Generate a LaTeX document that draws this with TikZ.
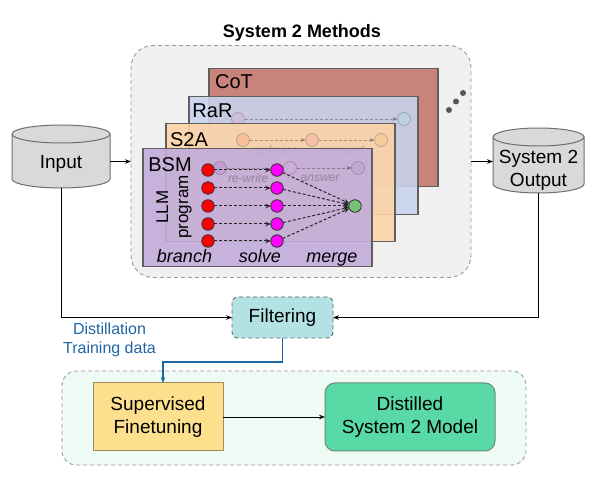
\documentclass[tikz,border=0pt]{standalone}
\usepackage{fontspec}
\setmainfont{Liberation Sans}
\usetikzlibrary{arrows.meta}
\definecolor{methfill}{HTML}{F0F0F0}
\definecolor{methdraw}{HTML}{9A9A9A}
\definecolor{cotfill}{HTML}{C8837A}
\definecolor{rarfill}{HTML}{C8D4EF}
\definecolor{s2afill}{HTML}{FDD3A6}
\definecolor{bsmfill}{HTML}{C2ACDA}
\definecolor{paneldraw}{HTML}{5F5F5F}
\definecolor{cylfill}{HTML}{D9D9D9}
\definecolor{cyldraw}{HTML}{6E6E6E}
\definecolor{filtfill}{HTML}{B3E2E5}
\definecolor{botfill}{HTML}{EEFAF4}
\definecolor{sftfill}{HTML}{FDE08E}
\definecolor{sftdraw}{HTML}{9C8B5E}
\definecolor{distfill}{HTML}{58D9A6}
\definecolor{distdraw}{HTML}{6A8C7C}
\definecolor{bluec}{HTML}{1F66A3}
\definecolor{dotc}{HTML}{555555}
\definecolor{greenc}{HTML}{74C474}
\definecolor{redc}{HTML}{FF0000}
\definecolor{magc}{HTML}{FF00FF}
\definecolor{fpurple}{HTML}{B080C8}
\definecolor{flav}{HTML}{D8A8E8}
\definecolor{fgrey}{HTML}{A8A8CC}
\definecolor{fpink}{HTML}{E0A0D8}
\definecolor{fcyan}{HTML}{A8E0EC}
\definecolor{forange}{HTML}{F49A60}
\definecolor{frose}{HTML}{F89AA0}
\definecolor{fgold}{HTML}{F4C878}
\begin{document}
\begin{tikzpicture}[x=1pt,y=-1pt,
  every node/.style={inner sep=0pt, outer sep=0pt},
  txt/.style={font=\fontsize{19}{23}\selectfont, align=center},
  titlestyle/.style={font=\bfseries\fontsize{18}{21}\selectfont},
  methods/.style={draw=methdraw, fill=methfill, line width=0.9pt, dash pattern=on 4pt off 3pt, rounded corners=22pt},
  panel/.style={draw=paneldraw, line width=1.3pt, minimum width=229pt, minimum height=118pt},
  plabel/.style={font=\fontsize{20}{24}\selectfont},
  cylshape/.style={draw=cyldraw, fill=cylfill, line width=1pt},
  cylline/.style={draw=cyldraw, line width=1pt},
  arr/.style={draw=black, line width=0.9pt, -{Stealth[length=6pt,width=4.5pt]}},
  bluearr/.style={draw=bluec, line width=1.2pt, -{Stealth[length=6pt,width=4.5pt]}},
  dasharr/.style={draw=black!85, line width=1pt, dash pattern=on 3pt off 2pt, -{Stealth[length=5.5pt,width=4.5pt]}},
  dotnode/.style={circle, minimum size=12.5pt, draw=black!80, line width=0.8pt},
  fdot/.style={circle, minimum size=13pt, draw=black!70, line width=0.8pt, opacity=0.3},
  fdash/.style={draw=black, line width=0.9pt, dash pattern=on 3pt off 2pt, opacity=0.3, -{Stealth[length=5pt,width=4pt]}},
  ftext/.style={font=\itshape\fontsize{12}{14}\selectfont, text=black, opacity=0.25},
  itl/.style={font=\itshape\fontsize{18}{21}\selectfont, anchor=base},
  filt/.style={draw=black!60, fill=filtfill, line width=0.9pt, dash pattern=on 4pt off 3pt, rounded corners=6pt, minimum width=101pt, minimum height=41pt},
  botbox/.style={draw=methdraw, fill=botfill, line width=0.9pt, dash pattern=on 4pt off 3pt, rounded corners=14pt},
  sftbox/.style={draw=sftdraw, fill=sftfill, line width=1pt, minimum width=130pt, minimum height=68pt},
  distbox/.style={draw=distdraw, fill=distfill, line width=1pt, rounded corners=10pt, minimum width=170pt, minimum height=68pt}
]
\useasboundingbox (0,0) rectangle (606,481);

% title
\node[titlestyle, anchor=base] (title) at (302,38) {System 2 Methods};

% methods container
\node[methods, minimum width=340pt, minimum height=232pt] (methods) at (301,161.5) {};

% CoT panel
\node[panel, fill=cotfill] (cot) at (323.5,127.5) {};
\node[plabel] (cotlbl) at (234,82) {CoT};

% RaR panel
\node[panel, fill=rarfill, fill opacity=0.88] (rar) at (303.5,155.5) {};
\node[plabel] (rarlbl) at (212.5,111) {RaR};
\node[fdot, fill=fpink] (fa1) at (238,119) {};
\node[fdot, fill=fcyan] (fa2) at (404,119) {};
\draw[fdash] (fa1) -- (fa2);

% S2A panel
\node[panel, fill=s2afill, fill opacity=0.88] (s2a) at (280.5,182.5) {};
\node[plabel] (s2albl) at (189,140) {S2A};
\node[fdot, fill=forange] (fb1) at (243,140) {};
\node[fdot, fill=frose] (fb2) at (312,140) {};
\node[fdot, fill=fgold] (fb3) at (381,140) {};
\draw[fdash] (fb1) -- (fb2);
\draw[fdash] (fb2) -- (fb3);
\node[ftext] (rephr) at (275,151) {rephrase};
\node[ftext] (respd) at (342,151) {respond};

% BSM panel
\node[panel, fill=bsmfill, fill opacity=0.9] (bsm) at (257.5,207.5) {};
\node[plabel] (bsmlbl) at (170,165) {BSM};
\node[fdot, fill=fpurple] (fc1) at (220,168) {};
\node[fdot, fill=flav] (fc2) at (290,168) {};
\node[fdot, fill=fgrey] (fc3) at (358,168) {};
\draw[fdash] (fc1) -- (fc2);
\draw[fdash] (fc2) -- (fc3);
\node[ftext] (rewr) at (248,178) {re-write};
\node[ftext] (answ) at (320,178) {answer};

% BSM program
\foreach \i/\yy in {1/170,2/188,3/206,4/224,5/241} {
  \node[dotnode, fill=redc] (r\i) at (208,\yy) {};
  \node[dotnode, fill=magc] (m\i) at (277,\yy) {};
  \draw[dasharr] (r\i) -- (m\i);
}
\node[dotnode, fill=greenc] (g) at (355,206) {};
\foreach \i in {1,...,5} { \draw[dasharr] (m\i) -- (g); }
\node[rotate=90, align=center, font=\fontsize{17}{20}\selectfont] (llm) at (174,207) {LLM\\program};
\node[itl] (branch) at (184.5,263) {branch};
\node[itl] (solve) at (260,263) {solve};
\node[itl] (merge) at (332,263) {merge};

% more dots
\fill[dotc] (449,110) circle[radius=3pt];
\fill[dotc] (456,101.5) circle[radius=3pt];
\fill[dotc] (463,93) circle[radius=3pt];

% Input cylinder
\path[cylshape] (12,134) -- (12,179) .. controls (12,183.97) and (33.94,188) .. (61,188)
  .. controls (88.06,188) and (110,183.97) .. (110,179) -- (110,134)
  .. controls (110,129.03) and (88.06,125) .. (61,125)
  .. controls (33.94,125) and (12,129.03) .. (12,134) -- cycle;
\path[cylline] (12,134) .. controls (12,138.97) and (33.94,143) .. (61,143)
  .. controls (88.06,143) and (110,138.97) .. (110,134);
\node[txt, minimum width=98pt, minimum height=48pt] (input) at (61,164) {Input};

% Output cylinder
\path[cylshape] (493,137) -- (493,184) .. controls (493,188.97) and (513.37,193) .. (538.5,193)
  .. controls (563.63,193) and (584,188.97) .. (584,184) -- (584,137)
  .. controls (584,132.03) and (563.63,128) .. (538.5,128)
  .. controls (513.37,128) and (493,132.03) .. (493,137) -- cycle;
\path[cylline] (493,137) .. controls (493,141.97) and (513.37,146) .. (538.5,146)
  .. controls (563.63,146) and (584,141.97) .. (584,137);
\node[txt, minimum width=91pt, minimum height=46pt] (output) at (538.5,170) {System 2\\Output};

% arrows to/from methods
\draw[arr] (methods.west -| input.east) -- (methods.west);
\draw[arr] (methods.east) -- (methods.east -| output.west);

% Filtering
\node[filt, txt] (filter) at (282.5,317.5) {Filtering};
\draw[arr] (input.south) |- (filter.west);
\draw[arr] (output.south) |- (filter.east);

% Distillation label
\node[align=center, text=bluec, font=\fontsize{16}{19}\selectfont] (distlbl) at (109.5,339.5) {Distillation\\Training data};

% bottom container
\node[botbox, minimum width=464pt, minimum height=94pt] (bottom) at (294,418) {};
\node[sftbox, txt] (sft) at (158,417) {Supervised\\Finetuning};
\node[distbox, txt] (dist) at (410,417) {Distilled\\System 2 Model};
\draw[arr] (sft) -- (dist);

% blue connector
\coordinate (bend) at (163,362);
\draw[bluearr] (filter.south) |- (bend) -- (bend |- sft.north);
\end{tikzpicture}
\end{document}
